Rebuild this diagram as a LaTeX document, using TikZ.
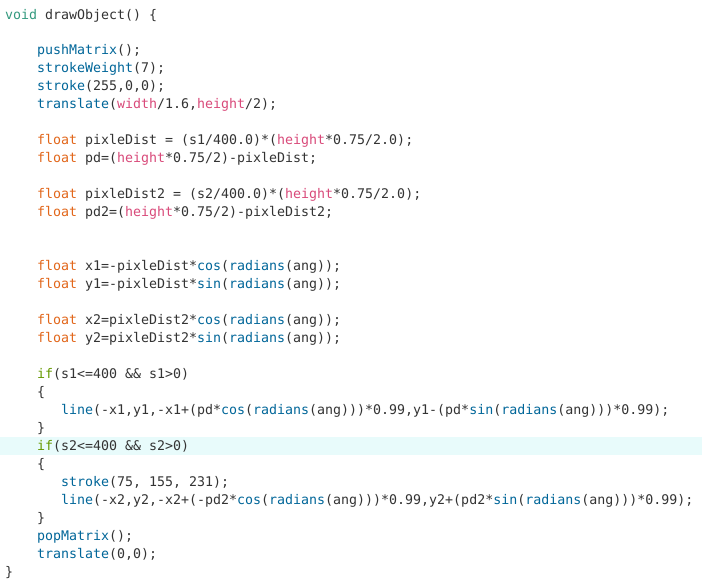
\documentclass[tikz,border=0pt]{standalone}
\usepackage{fontspec}
\setmonofont{DejaVu Sans Mono}
\definecolor{txt}{HTML}{333333}
\definecolor{kwvoid}{HTML}{33997E}
\definecolor{kwfloat}{HTML}{E2661A}
\definecolor{kwif}{HTML}{669900}
\definecolor{fnc}{HTML}{006699}
\definecolor{pink}{HTML}{D94A7A}
\definecolor{hl}{HTML}{E8FBFB}
\newcommand{\kV}[1]{\textcolor{kwvoid}{#1}}
\newcommand{\kF}[1]{\textcolor{kwfloat}{#1}}
\newcommand{\kI}[1]{\textcolor{kwif}{#1}}
\newcommand{\fN}[1]{\textcolor{fnc}{#1}}
\newcommand{\pK}[1]{\textcolor{pink}{#1}}
\tikzset{codeln/.style={anchor=base west, inner sep=0pt, text=txt,
  font=\ttfamily\fontsize{13.29pt}{16pt}\selectfont}}
\newcommand{\cl}[4]{\node[codeln] (#1) at ({5+8*#2},{-(19+17.97*#3)}) {#4};}
\begin{document}
\begin{tikzpicture}[x=1pt,y=1pt]
\useasboundingbox (0,0) rectangle (702,-587);
\fill[white] (0,0) rectangle (702,-587);
\fill[hl] (0,-437) rectangle (702,-455);
\cl{l0}{0}{0}{\kV{void} drawObject() \{}
\cl{l2}{4}{2}{\fN{pushMatrix}();}
\cl{l3}{4}{3}{\fN{strokeWeight}(7);}
\cl{l4}{4}{4}{\fN{stroke}(255,0,0);}
\cl{l5}{4}{5}{\fN{translate}(\pK{width}/1.6,\pK{height}/2);}
\cl{l7}{4}{7}{\kF{float} pixleDist = (s1/400.0)*(\pK{height}*0.75/2.0);}
\cl{l8}{4}{8}{\kF{float} pd=(\pK{height}*0.75/2)-pixleDist;}
\cl{l10}{4}{10}{\kF{float} pixleDist2 = (s2/400.0)*(\pK{height}*0.75/2.0);}
\cl{l11}{4}{11}{\kF{float} pd2=(\pK{height}*0.75/2)-pixleDist2;}
\cl{l14}{4}{14}{\kF{float} x1=-pixleDist*\fN{cos}(\fN{radians}(ang));}
\cl{l15}{4}{15}{\kF{float} y1=-pixleDist*\fN{sin}(\fN{radians}(ang));}
\cl{l17}{4}{17}{\kF{float} x2=pixleDist2*\fN{cos}(\fN{radians}(ang));}
\cl{l18}{4}{18}{\kF{float} y2=pixleDist2*\fN{sin}(\fN{radians}(ang));}
\cl{l20}{4}{20}{\kI{if}(s1<=400 \&\& s1>0)}
\cl{l21}{4}{21}{\{}
\cl{l22}{7}{22}{\fN{line}(-x1,y1,-x1+(pd*\fN{cos}(\fN{radians}(ang)))*0.99,y1-(pd*\fN{sin}(\fN{radians}(ang)))*0.99);}
\cl{l23}{4}{23}{\}}
\cl{l24}{4}{24}{\kI{if}(s2<=400 \&\& s2>0)}
\cl{l25}{4}{25}{\{}
\cl{l26}{7}{26}{\fN{stroke}(75, 155, 231);}
\cl{l27}{7}{27}{\fN{line}(-x2,y2,-x2+(-pd2*\fN{cos}(\fN{radians}(ang)))*0.99,y2+(pd2*\fN{sin}(\fN{radians}(ang)))*0.99);}
\cl{l28}{4}{28}{\}}
\cl{l29}{4}{29}{\fN{popMatrix}();}
\cl{l30}{4}{30}{\fN{translate}(0,0);}
\cl{l31}{0}{31}{\}}
\end{tikzpicture}
\end{document}
